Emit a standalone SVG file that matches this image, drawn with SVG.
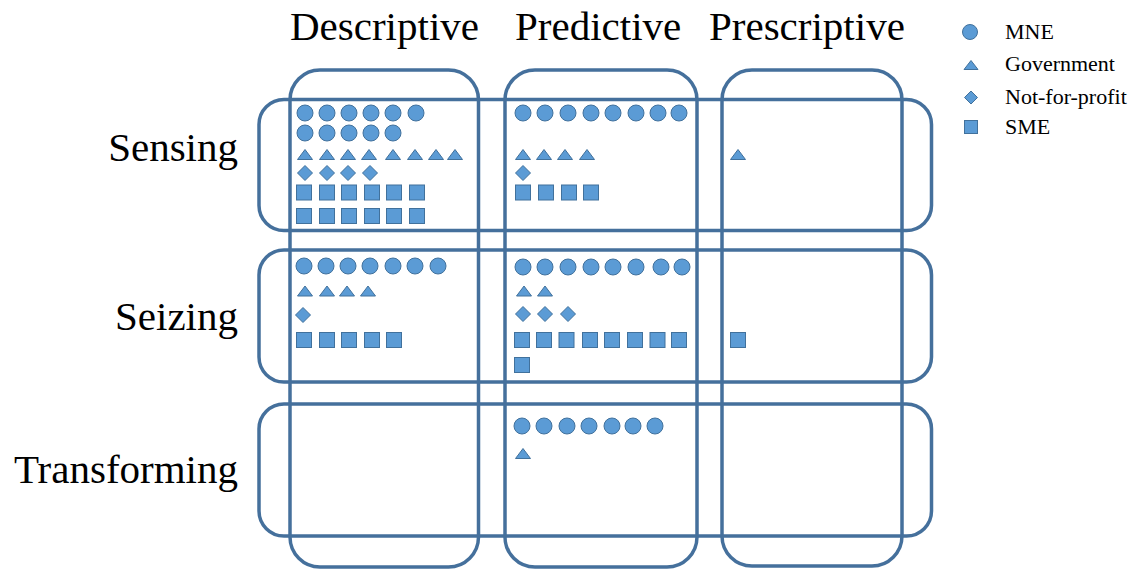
<svg xmlns="http://www.w3.org/2000/svg" xmlns:xlink="http://www.w3.org/1999/xlink" width="1139" height="569" viewBox="0 0 1139 569">
<style>
.frame{fill:none;stroke:#45709c;stroke-width:3.5}
.mk{fill:#5b9bd5;stroke:#41719c;stroke-width:1}
.title{font-family:"Liberation Serif","Times New Roman",serif;font-size:41px;fill:#000}
.leg{font-family:"Liberation Serif","Times New Roman",serif;font-size:22px;fill:#000}
</style>
<defs>
<circle id="c" class="mk" cx="0" cy="0" r="8"/>
<polygon id="t" class="mk" points="0,-5.5 7.5,4.5 -7.5,4.5"/>
<polygon id="d" class="mk" points="0,-7.5 7.5,0 0,7.5 -7.5,0"/>
<rect id="s" class="mk" x="-7.5" y="-7.5" width="15" height="15"/>
</defs>
<rect width="1139" height="569" fill="#fff"/>

<g id="headers">
<text class="title" x="290" y="40">Descriptive</text>
<text class="title" x="515" y="40">Predictive</text>
<text class="title" x="709" y="40">Prescriptive</text>
<text class="title" x="238" y="161" text-anchor="end">Sensing</text>
<text class="title" x="238" y="330" text-anchor="end">Seizing</text>
<text class="title" x="238" y="483" text-anchor="end">Transforming</text>
</g>

<g id="columns">
<rect id="col-descriptive" class="frame" x="290" y="70" width="188.5" height="497" rx="30"/>
<rect id="col-predictive" class="frame" x="505" y="70" width="192" height="497" rx="30"/>
<rect id="col-prescriptive" class="frame" x="722" y="70" width="180" height="496" rx="30"/>
</g>

<g id="rows">
<rect id="row-sensing" class="frame" x="259" y="99.5" width="672.5" height="131" rx="25"/>
<rect id="row-seizing" class="frame" x="259" y="250" width="672.5" height="132" rx="25"/>
<rect id="row-transforming" class="frame" x="259" y="404" width="672.5" height="132" rx="25"/>
</g>

<g id="cell-sensing-descriptive">
<use href="#c" x="305" y="113"/><use href="#c" x="327" y="113"/><use href="#c" x="349" y="113"/><use href="#c" x="371" y="113"/><use href="#c" x="393" y="113"/><use href="#c" x="416" y="113"/>
<use href="#c" x="305" y="133"/><use href="#c" x="327" y="133"/><use href="#c" x="349" y="133"/><use href="#c" x="371" y="133"/><use href="#c" x="393" y="133"/>
<use href="#t" x="305" y="155"/><use href="#t" x="327" y="155"/><use href="#t" x="348" y="155"/><use href="#t" x="369" y="155"/><use href="#t" x="393" y="155"/><use href="#t" x="415" y="155"/><use href="#t" x="436" y="155"/><use href="#t" x="455" y="155"/>
<use href="#d" x="305" y="173"/><use href="#d" x="327" y="173"/><use href="#d" x="348" y="173"/><use href="#d" x="370" y="173"/>
<use href="#s" x="304" y="192.5"/><use href="#s" x="327" y="192.5"/><use href="#s" x="349" y="192.5"/><use href="#s" x="372" y="192.5"/><use href="#s" x="394" y="192.5"/><use href="#s" x="417" y="192.5"/>
<use href="#s" x="304" y="216"/><use href="#s" x="327" y="216"/><use href="#s" x="349" y="216"/><use href="#s" x="372" y="216"/><use href="#s" x="394" y="216"/><use href="#s" x="417" y="216"/>
</g>

<g id="cell-sensing-predictive">
<use href="#c" x="523" y="113"/><use href="#c" x="545" y="113"/><use href="#c" x="568" y="113"/><use href="#c" x="591" y="113"/><use href="#c" x="613" y="113"/><use href="#c" x="636" y="113"/><use href="#c" x="658" y="113"/><use href="#c" x="679" y="113"/>
<use href="#t" x="523" y="155"/><use href="#t" x="544" y="155"/><use href="#t" x="565" y="155"/><use href="#t" x="587" y="155"/>
<use href="#d" x="523" y="173"/>
<use href="#s" x="523" y="192.5"/><use href="#s" x="546" y="192.5"/><use href="#s" x="569" y="192.5"/><use href="#s" x="591" y="192.5"/>
</g>

<g id="cell-sensing-prescriptive">
<use href="#t" x="738" y="155"/>
</g>

<g id="cell-seizing-descriptive">
<use href="#c" x="304" y="266"/><use href="#c" x="326" y="266"/><use href="#c" x="348" y="266"/><use href="#c" x="370" y="266"/><use href="#c" x="393" y="266"/><use href="#c" x="415" y="266"/><use href="#c" x="438" y="266"/>
<use href="#t" x="305" y="291.5"/><use href="#t" x="327" y="291.5"/><use href="#t" x="347" y="291.5"/><use href="#t" x="368" y="291.5"/>
<use href="#d" x="303" y="315"/>
<use href="#s" x="304" y="340"/><use href="#s" x="327" y="340"/><use href="#s" x="349" y="340"/><use href="#s" x="372" y="340"/><use href="#s" x="394" y="340"/>
</g>

<g id="cell-seizing-predictive">
<use href="#c" x="523" y="267"/><use href="#c" x="545" y="267"/><use href="#c" x="568" y="267"/><use href="#c" x="591" y="267"/><use href="#c" x="613" y="267"/><use href="#c" x="636" y="267"/><use href="#c" x="661" y="267"/><use href="#c" x="682" y="267"/>
<use href="#t" x="524" y="291.5"/><use href="#t" x="545" y="291.5"/>
<use href="#d" x="523" y="314"/><use href="#d" x="545" y="314"/><use href="#d" x="568" y="314"/>
<use href="#s" x="522" y="340"/><use href="#s" x="544" y="340"/><use href="#s" x="566.5" y="340"/><use href="#s" x="590" y="340"/><use href="#s" x="612" y="340"/><use href="#s" x="635" y="340"/><use href="#s" x="657.5" y="340"/><use href="#s" x="679" y="340"/>
<use href="#s" x="522" y="365"/>
</g>

<g id="cell-seizing-prescriptive">
<use href="#s" x="738" y="340"/>
</g>

<g id="cell-transforming-predictive">
<use href="#c" x="522" y="426"/><use href="#c" x="544" y="426"/><use href="#c" x="567" y="426"/><use href="#c" x="589" y="426"/><use href="#c" x="612" y="426"/><use href="#c" x="633" y="426"/><use href="#c" x="655" y="426"/>
<use href="#t" x="523" y="454"/>
</g>

<g id="legend">
<circle class="mk" cx="970" cy="32" r="7.5"/>
<polygon class="mk" points="971,60.5 978,69.5 964,69.5"/>
<polygon class="mk" points="971,91 977.5,97.5 971,104 964.5,97.5"/>
<rect class="mk" x="964.5" y="120.5" width="13" height="13"/>
<text class="leg" x="1005" y="39">MNE</text>
<text class="leg" x="1005" y="71">Government</text>
<text class="leg" x="1005" y="104">Not-for-profit</text>
<text class="leg" x="1005" y="134">SME</text>
</g>
</svg>
